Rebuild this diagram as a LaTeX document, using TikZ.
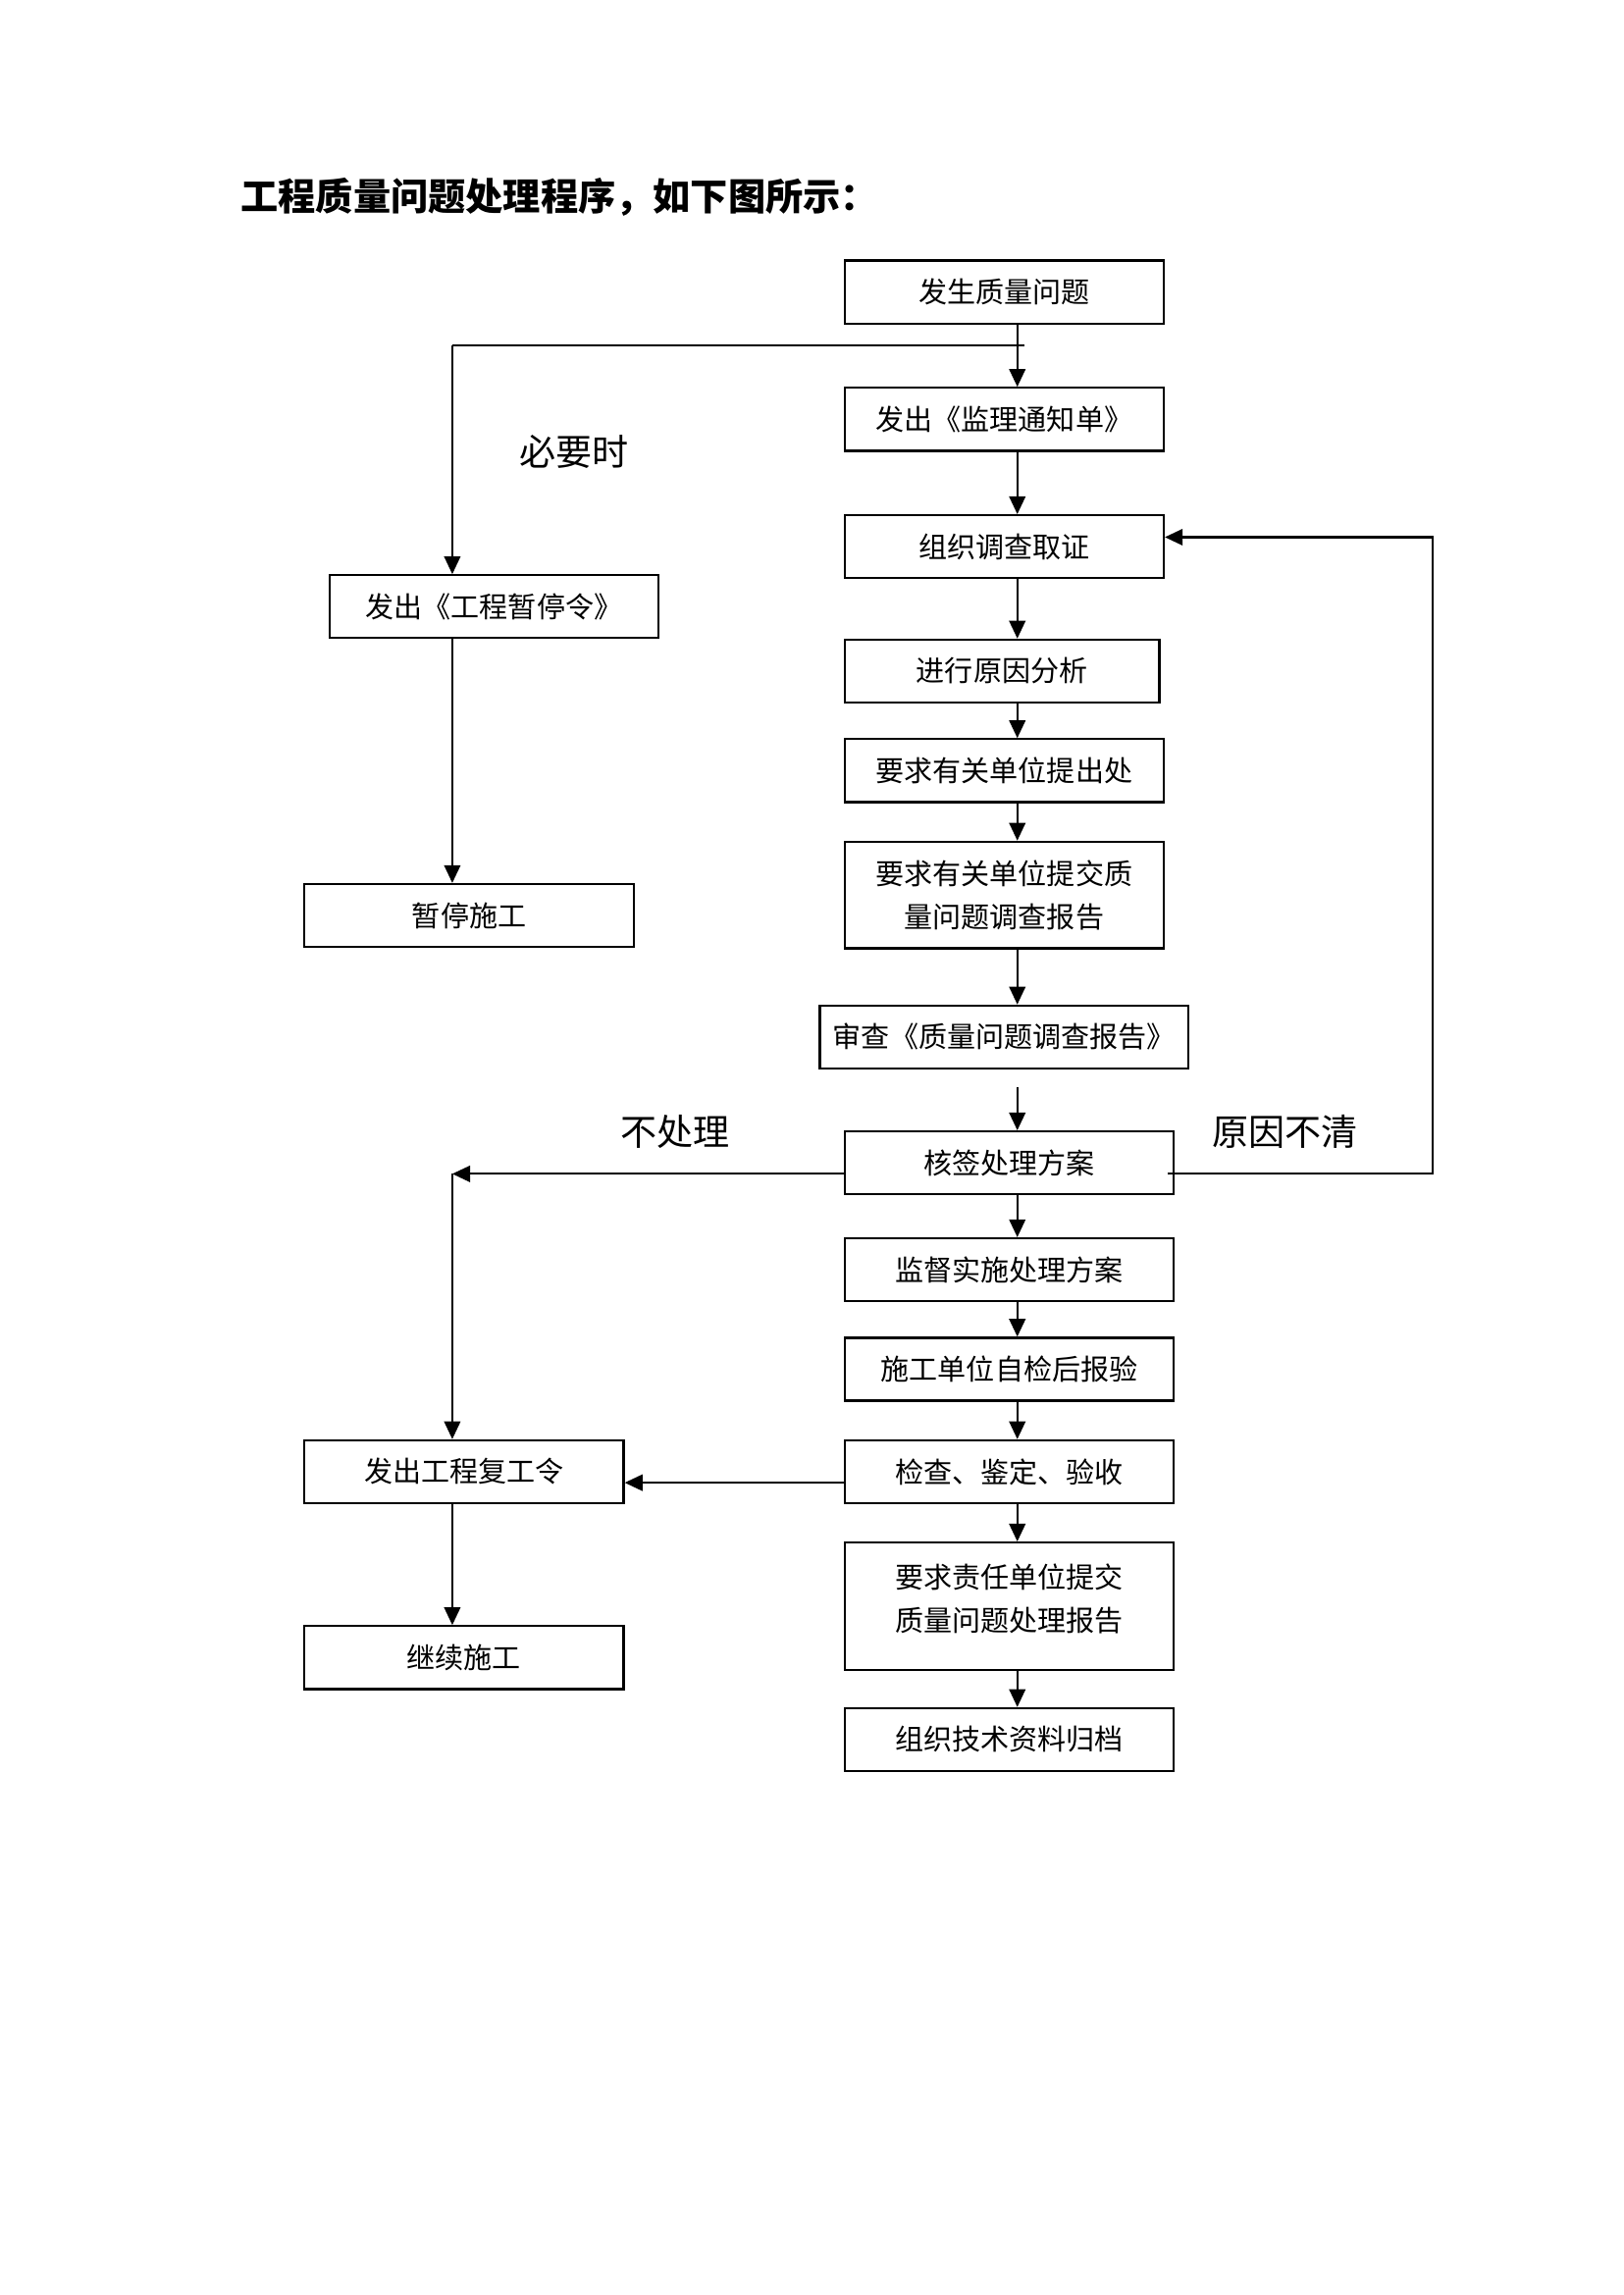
\documentclass[tikz,border=0pt]{standalone}
\usepackage{fontspec}
\setmainfont{Noto Sans CJK SC}
\usetikzlibrary{arrows.meta, calc}

\begin{document}
\begin{tikzpicture}[x=0.18936mm, y=-0.18936mm,
    box/.style={draw, line width=0.8pt, inner sep=0pt, minimum height=8.14mm, align=center,
      font=\fontsize{10.5pt}{16pt}\selectfont},
    arr/.style={-{Triangle[length=2.3mm,width=2.1mm]}, line width=0.75pt},
    tag/.style={font=\fontsize{13.4pt}{16pt}\selectfont}]
  \useasboundingbox (0,0) rectangle (1109,1568);

  \node[anchor=west, font=\fontsize{13.8pt}{16pt}\selectfont\bfseries] (title) at (158,135) {工程质量问题处理程序，如下图所示：};

  % main column
  \node[box, minimum width=41.3mm] (b1) at (686,199.5) {发生质量问题};
  \node[box, minimum width=41.3mm] (b2) at (686,286.5) {发出《监理通知单》};
  \node[box, minimum width=41.3mm] (b3) at (686,373.5) {组织调查取证};
  \node[box, minimum width=40.7mm] (b4) at (684.5,458.5) {进行原因分析};
  \node[box, minimum width=41.3mm] (b5) at (686,526.5) {要求有关单位提出处};
  \node[box, minimum width=41.3mm, minimum height=13.8mm] (b6) at (686,611.5) {要求有关单位提交质\\量问题调查报告};
  \node[box, minimum width=47.7mm] (b7) at (686,708.5) {审查《质量问题调查报告》};
  \node[box, minimum width=42.6mm] (b8) at (689.5,794.5) {核签处理方案};
  \node[box, minimum width=42.6mm] (b9) at (689.5,867.5) {监督实施处理方案};
  \node[box, minimum width=42.6mm] (b10) at (689.5,935.5) {施工单位自检后报验};
  \node[box, minimum width=42.6mm] (b11) at (689.5,1005.5) {检查、鉴定、验收};
  \node[box, minimum width=42.6mm, minimum height=16.5mm] (b12) at (689.5,1097.5) {要求责任单位提交\\质量问题处理报告\\[-3.4mm]};
  \node[box, minimum width=42.6mm] (b13) at (689.5,1188.5) {组织技术资料归档};

  % left column
  \node[box, minimum width=42.6mm] (l1) at (337.5,414.5) {发出《工程暂停令》};
  \node[box, minimum width=42.6mm] (l2) at (320.5,625.5) {暂停施工};
  \node[box, minimum width=41.3mm] (l3) at (317,1005.5) {发出工程复工令};
  \node[box, minimum width=41.3mm] (l4) at (317,1132.5) {继续施工};

  \node[tag] (t1) at (392,309) {必要时};
  \node[tag] (t2) at (461,773) {不处理};
  \node[tag] (t3) at (878,773) {原因不清};

  \coordinate (ax) at (695,0);
  \coordinate (j0) at (309,236);
  \coordinate (j1) at (700,236);
  \coordinate (j2) at (309,802);
  \coordinate (j3) at (979,802);
  \coordinate (j4) at (577,1013);

  \foreach \a/\b in {b1/b2, b2/b3, b3/b4, b4/b5, b5/b6, b6/b7, b8/b9, b9/b10, b10/b11, b11/b12, b12/b13}
    \draw[arr] (\a.south -| ax) -- (\b.north -| ax);
  \draw[arr] ($(b7.south -| ax)+(0,12)$) -- (b8.north -| ax);

  \draw[line width=0.75pt] (j1) -- (j0);
  \draw[arr] (j0) -- (j0 |- l1.north);
  \draw[arr] (j0 |- l1.south) -- (j0 |- l2.north);

  \draw[arr] (b8.west |- j2) -- (j2);
  \draw[arr] (j2) -- (j2 |- l3.north);
  \draw[arr] ($(b8.east |- j3)+(-5,0)$) -- (j3) |- (b3.east |- 0,367);

  \draw[arr] (j4) -- (l3.east |- j4);
  \draw[arr] (j0 |- l3.south) -- (j0 |- l4.north);
\end{tikzpicture}
\end{document}
